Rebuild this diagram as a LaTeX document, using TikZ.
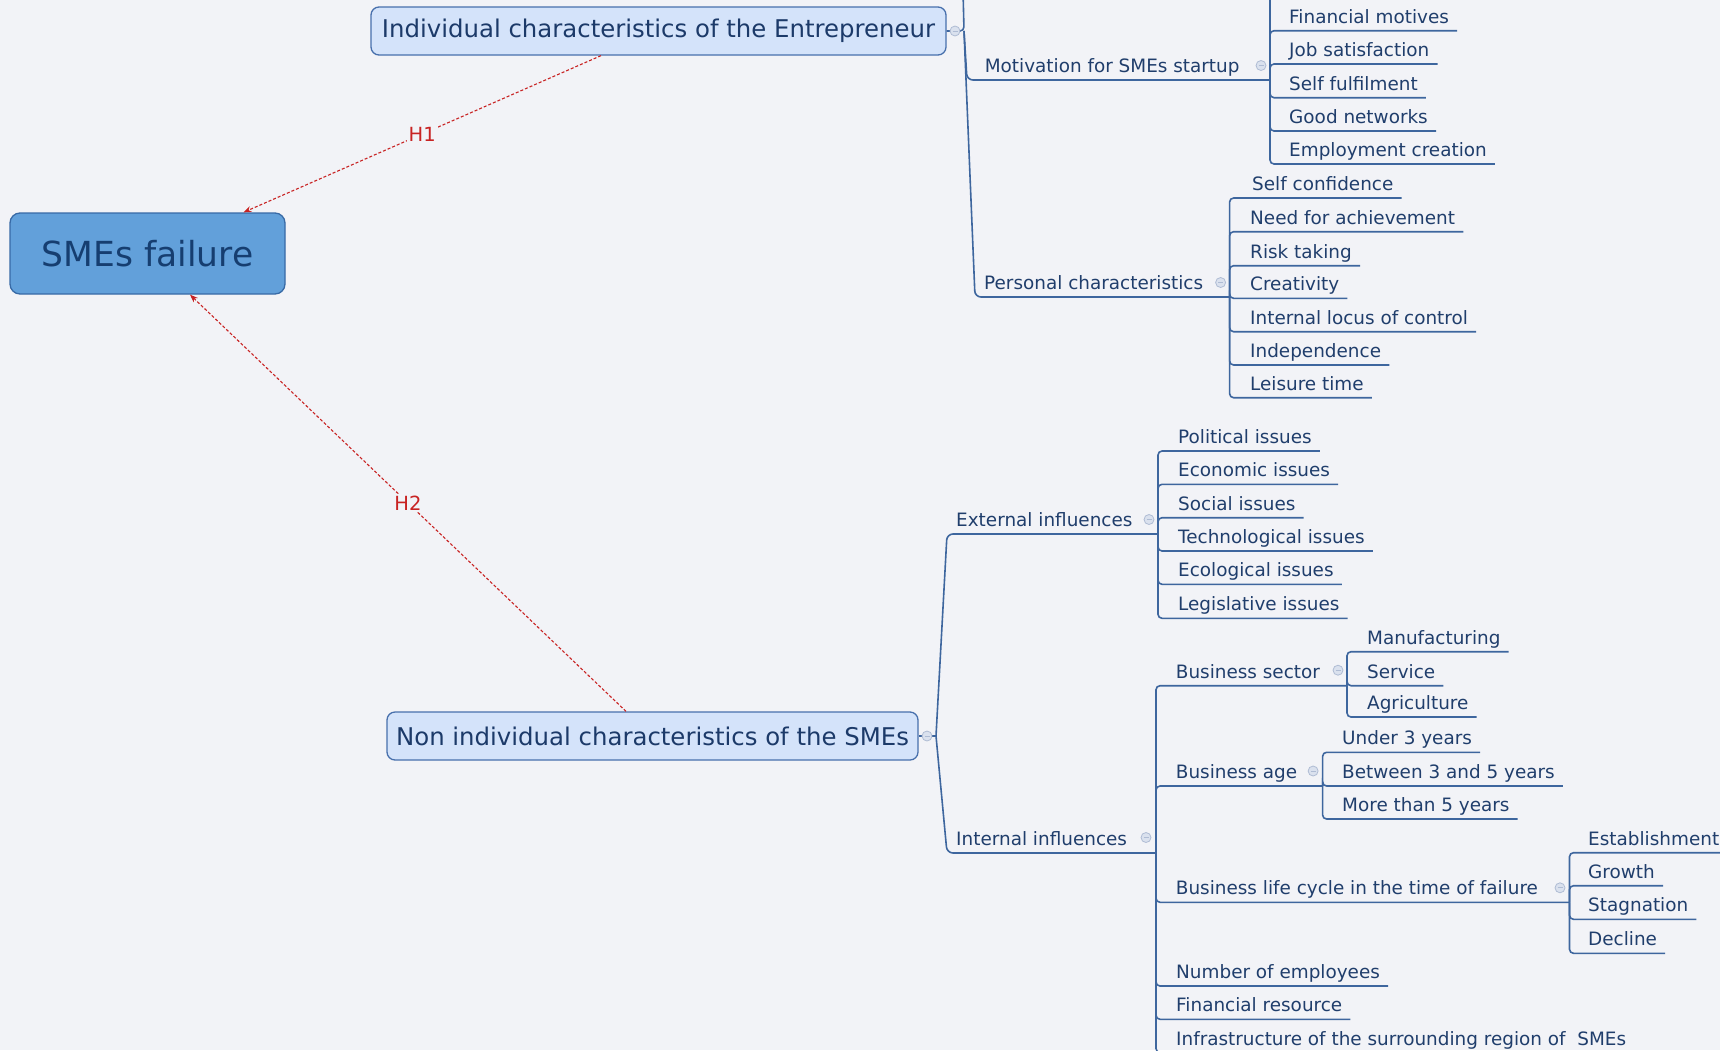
\documentclass[tikz,border=0pt]{standalone}
\usepackage{fontspec}
\setmainfont{DejaVu Sans}
\usetikzlibrary{arrows.meta,calc}
\definecolor{bg}{RGB}{242,243,247}
\definecolor{boxfill}{RGB}{212,227,250}
\definecolor{boxline}{RGB}{72,112,172}
\definecolor{rootfill}{RGB}{98,160,218}
\definecolor{rootline}{RGB}{56,106,166}
\definecolor{roottext}{RGB}{22,62,112}
\definecolor{boxtext}{RGB}{28,58,105}
\definecolor{brline}{RGB}{62,102,158}
\definecolor{brtext}{RGB}{32,62,108}
\definecolor{hyp}{RGB}{200,35,35}
\definecolor{colfill}{RGB}{218,225,238}
\definecolor{colline}{RGB}{175,188,212}
\tikzset{
  topbox/.style={draw=boxline, fill=boxfill, line width=1.3pt, rounded corners=8pt, text=boxtext, font=\fontsize{24.4}{28}\selectfont, inner sep=0pt, minimum height=48pt},
  rootbox/.style={draw=rootline, fill=rootfill, line width=1.3pt, rounded corners=10pt, text=roottext, font=\fontsize{34.5}{40}\selectfont, inner sep=0pt, minimum width=275pt, minimum height=81pt},
  lbl/.style={anchor=base west, text=brtext, font=\fontsize{18.4}{22}\selectfont, inner sep=0pt},
  br/.style={draw=brline, line width=1.6pt, rounded corners=4pt},
  col/.style={circle, draw=colline, fill=colfill, line width=0.8pt, minimum size=10pt, inner sep=0pt,
    path picture={\draw[colline, line width=1pt] ([xshift=-2.5pt]path picture bounding box.center) -- ([xshift=2.5pt]path picture bounding box.center);}},
  hypline/.style={draw=hyp, line width=1.1pt, dash pattern=on 3pt off 2pt, -{Stealth[length=8pt,width=6pt]}},
  hyplbl/.style={text=hyp, fill=bg, font=\fontsize{19.5}{22}\selectfont, inner sep=2pt},
}
% name, junction, text x, underline y, text
\newcommand\brleaf[5]{%
  \node[lbl] (#1) at (#3,#4-7.5) {#5};
  \draw[br] (#2) |- ([xshift=8pt,yshift=-7.5pt]#1.base east);
}
\begin{document}
\begin{tikzpicture}[x=1pt,y=-1pt]
\path[use as bounding box] (0,0) rectangle (1720,1050);
\clip (0,0) rectangle (1720,1050);
\fill[bg] (0,0) rectangle (1720,1050);

% main nodes
\node[rootbox] (sme) at (147.5,253.5) {SMEs failure};
\node[topbox, minimum width=575pt] (ind) at (658.5,31) {Individual characteristics of the Entrepreneur};
\node[topbox, minimum width=531pt] (non) at (652.5,736) {Non individual characteristics of the SMEs};

% junctions
\coordinate (indj) at (964,31);
\coordinate (indtop) at (963,-10);
\coordinate (nonj) at (936,736);
\coordinate (motj) at (1270,80);
\coordinate (mottop) at (1270,-10);
\coordinate (perj) at (1229.6,297);
\coordinate (extj) at (1158,534);
\coordinate (intj) at (1156,853);
\coordinate (bsj) at (1347,685.7);
\coordinate (baj) at (1322.6,786);
\coordinate (lcj) at (1569.5,902.3);

% hypotheses
\draw[hypline] ([xshift=-57.5pt]ind.south) -- node[hyplbl]{H1} ([xshift=96pt]sme.north);
\draw[hypline] ([xshift=-26.5pt]non.north) -- node[hyplbl]{H2} ([xshift=42.5pt]sme.south);

% individual branch
\draw[br] (ind.east) -- (indj) -- (indtop);
\node[lbl] (mot) at (984.6,72.5) {Motivation for SMEs startup};
\node[lbl] (per) at (984,289.5) {Personal characteristics};
\draw[br, rounded corners=6pt] (indj) -- ([xshift=3pt]indj |- motj) -- (motj);
\draw[br, rounded corners=6pt] (indj) -- ([xshift=11pt]indj |- perj) -- (perj);
\draw[br] (motj) -- (mottop);

\brleaf{fm}{motj}{1289}{30.7}{Financial motives}
\brleaf{js}{motj}{1289}{64}{Job satisfaction}
\brleaf{sf}{motj}{1289}{97.7}{Self fulfilment}
\brleaf{gn}{motj}{1289}{131}{Good networks}
\brleaf{ec}{motj}{1289}{164}{Employment creation}

\brleaf{sc}{perj}{1252}{198}{Self confidence}
\brleaf{na}{perj}{1250}{231.7}{Need for achievement}
\brleaf{rt}{perj}{1250}{265.7}{Risk taking}
\brleaf{cr}{perj}{1250}{298.3}{Creativity}
\brleaf{il}{perj}{1250}{331.7}{Internal locus of control}
\brleaf{ip}{perj}{1250}{365}{Independence}
\brleaf{lt}{perj}{1250}{397.7}{Leisure time}

% non individual branch
\draw[br] (non.east) -- (nonj);
\node[lbl] (ext) at (956,526.5) {External influences};
\node[lbl] (int) at (956,845.5) {Internal influences};
\draw[br, rounded corners=6pt] (nonj) -- ([xshift=11pt]nonj |- extj) -- (extj);
\draw[br, rounded corners=6pt] (nonj) -- ([xshift=11pt]nonj |- intj) -- (intj);

\brleaf{pi}{extj}{1178}{451}{Political issues}
\brleaf{ei}{extj}{1178}{484.3}{Economic issues}
\brleaf{si}{extj}{1178}{517.7}{Social issues}
\brleaf{ti}{extj}{1178}{551}{Technological issues}
\brleaf{eco}{extj}{1178}{584.3}{Ecological issues}
\brleaf{li}{extj}{1178}{618.3}{Legislative issues}

\node[lbl] (bs) at (1175.7,678.2) {Business sector};
\node[lbl] (ba) at (1175.7,778.5) {Business age};
\node[lbl] (lc) at (1175.7,894.8) {Business life cycle in the time of failure};
\draw[br] (intj) |- (bsj);
\draw[br] (intj) |- (baj);
\draw[br] (intj) |- (lcj);
\brleaf{ne}{intj}{1176}{986}{Number of employees}
\brleaf{fr}{intj}{1176}{1019.3}{Financial resource}
\brleaf{inf}{intj}{1176}{1052.5}{Infrastructure of the surrounding region of~~SMEs}

\brleaf{mf}{bsj}{1367}{651.7}{Manufacturing}
\brleaf{sv}{bsj}{1367}{685.7}{Service}
\brleaf{ag}{bsj}{1367}{717}{Agriculture}

\brleaf{u3}{baj}{1342}{752.3}{Under 3 years}
\brleaf{b35}{baj}{1342}{786}{Between 3 and 5 years}
\brleaf{m5}{baj}{1342}{819}{More than 5 years}

\brleaf{es}{lcj}{1588}{852.7}{Establishment}
\brleaf{gr}{lcj}{1588}{885.7}{Growth}
\brleaf{st}{lcj}{1588}{919.3}{Stagnation}
\brleaf{de}{lcj}{1588}{953.3}{Decline}

% collapse markers
\node[col] (indc) at ([xshift=-9pt]indj) {};
\node[col] (nonc) at ([xshift=-9pt]nonj) {};
\node[col] (motc) at ([xshift=-9pt,yshift=14.5pt]motj) {};
\node[col] (perc) at ([xshift=-9pt,yshift=14.5pt]perj) {};
\node[col] (extc) at ([xshift=-9pt,yshift=14.5pt]extj) {};
\node[col] (intc) at ([xshift=-10pt,yshift=15.5pt]intj) {};
\node[col] (bsc) at ([xshift=-9pt,yshift=15.5pt]bsj) {};
\node[col] (bac) at ([xshift=-9.5pt,yshift=15pt]baj) {};
\node[col] (lcc) at ([xshift=-9.5pt,yshift=14.5pt]lcj) {};
\end{tikzpicture}
\end{document}
